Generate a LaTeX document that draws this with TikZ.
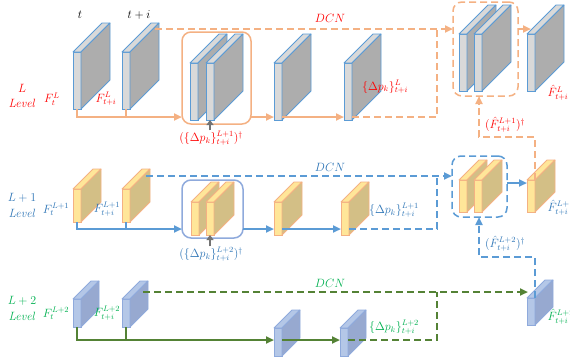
\documentclass[tikz,border=0pt]{standalone}
\usetikzlibrary{arrows.meta,calc}
\definecolor{cOr}{HTML}{F4B183}
\definecolor{cBl}{HTML}{5B9BD5}
\definecolor{cGr}{HTML}{548235}
\definecolor{cBx}{HTML}{8FAADC}
\definecolor{tRed}{HTML}{FF0000}
\definecolor{tBlue}{HTML}{2E75B6}
\definecolor{tGreen}{HTML}{00B050}
\definecolor{gLight}{HTML}{D9D9D9}
\definecolor{gDark}{HTML}{ADADAD}
\definecolor{yLight}{HTML}{FFE699}
\definecolor{yDark}{HTML}{D3BF86}
\definecolor{bLight}{HTML}{B4C7E7}
\definecolor{bDark}{HTML}{97A9D0}
\tikzset{
  slabbase/.style={rectangle, minimum width=8pt, inner sep=0pt, outer sep=0pt, line width=0.8pt},
  Lfront/.style={slabbase, draw=cBl, fill=gLight},
  Ltop/.style={draw=cBl, fill=gLight, line width=0.8pt, line join=round},
  Lside/.style={draw=cBl, fill=gDark, line width=0.8pt, line join=round},
  Mfront/.style={slabbase, draw=cOr, fill=yLight},
  Mtop/.style={draw=cOr, fill=yLight, line width=0.8pt, line join=round},
  Mside/.style={draw=cOr, fill=yDark, line width=0.8pt, line join=round},
  Bfront/.style={slabbase, draw=cBx, fill=bLight},
  Btop/.style={draw=cBx, fill=bLight, line width=0.8pt, line join=round},
  Bside/.style={draw=cBx, fill=bDark, line width=0.8pt, line join=round},
  arr/.style={-{Triangle[length=8pt,width=7pt]}},
  oline/.style={draw=cOr, line width=2pt},
  odash/.style={oline, dash pattern=on 7pt off 4pt},
  bline/.style={draw=cBl, line width=2pt},
  bdash/.style={bline, dash pattern=on 7pt off 4pt},
  gline/.style={draw=cGr, line width=2pt},
  gdash/.style={gline, dash pattern=on 7pt off 4pt},
  grayarr/.style={draw=black!55, line width=2pt, -{Triangle[length=5pt,width=7pt]}},
  boxbase/.style={rectangle, inner sep=0pt, outer sep=0pt, line width=1.5pt, rounded corners=9pt},
}
\newcommand{\mkslab}[6]{%
  \node[#6front, minimum height=#4, anchor=north west] (#1) at (#2,#3) {};
  \filldraw[#6top] (#1.north west) -- ($(#1.north west)+(#5,-#5)$) -- ($(#1.north east)+(#5,-#5)$) -- (#1.north east) -- cycle;
  \filldraw[#6side] (#1.north east) -- ($(#1.north east)+(#5,-#5)$) -- ($(#1.south east)+(#5,-#5)$) -- (#1.south east) -- cycle;
  \coordinate (#1-b) at ($(#1.north east)+(#5,-#5)$);
}
\begin{document}
\begin{tikzpicture}[x=1pt,y=-1pt, every node/.style={font=\fontsize{12}{14}\selectfont, inner sep=0.5pt}]
\useasboundingbox (0,0) rectangle (570,360);

% ---------- boxes ----------
\node[boxbase, draw=cOr, minimum width=69pt, minimum height=92pt] (boxL) at (216.5,78) {};
\node[boxbase, draw=cOr, dash pattern=on 7pt off 4pt, minimum width=65pt, minimum height=94pt] (boxLd) at (485.5,49) {};
\node[boxbase, draw=cBx, minimum width=61pt, minimum height=58pt] (boxM) at (212.5,209) {};
\node[boxbase, draw=cBl, dash pattern=on 7pt off 4pt, minimum width=55pt, minimum height=61pt] (boxMd) at (479.5,186.5) {};

% ---------- L level slabs ----------
\mkslab{L1}{73}{52}{57}{29}{L}
\mkslab{L2}{122}{52}{57}{29}{L}
\mkslab{LA}{190}{63}{57}{29}{L}
\mkslab{LB}{206}{63}{57}{29}{L}
\mkslab{L3}{274}{63}{57}{29}{L}
\mkslab{L4}{344}{63}{57}{29}{L}
\mkslab{LC}{459}{34}{57}{29}{L}
\mkslab{LD}{474}{34}{57}{29}{L}
\mkslab{LE}{527}{34}{57}{29}{L}

% ---------- L+1 level slabs ----------
\mkslab{M1}{73}{189}{33}{20}{M}
\mkslab{M2}{122}{189}{33}{20}{M}
\mkslab{MA}{191}{202}{33}{20}{M}
\mkslab{MB}{206}{202}{33}{20}{M}
\mkslab{M3}{274}{202}{33}{20}{M}
\mkslab{M4}{341}{202}{33}{20}{M}
\mkslab{MC}{459}{180}{32}{20}{M}
\mkslab{MD}{474}{180}{32}{20}{M}
\mkslab{ME}{527}{180}{32}{20}{M}

% ---------- L+2 level slabs ----------
\mkslab{B1}{73}{299}{28}{18}{B}
\mkslab{B2}{122}{299}{28}{18}{B}
\mkslab{B3}{274}{328}{28}{18}{B}
\mkslab{B4}{340}{328}{28}{18}{B}
\mkslab{BE}{527}{298}{27}{18}{B}

% ---------- helper coordinates ----------
\coordinate (yL) at (0,117);
\coordinate (yM) at (0,229);
\coordinate (yB) at (0,340);
\coordinate (xJ) at (437,0);
\coordinate (yM2) at (0,183);
\coordinate (L2-s) at ($(L2-b)+(-4,6)$);
\coordinate (M2-s) at ($(M2-b)+(-4,7)$);
\coordinate (B2-s) at ($(B2-b)+(-5,11)$);
\coordinate (uL) at (479,137);
\coordinate (uM) at (479,257);

% ---------- L level connectors ----------
\draw[oline,arr] (L1.south) |- (boxL.west |- yL);
\draw[oline] (L2.south) -- (L2.south |- yL);
\draw[oline,arr] (boxL.east |- yL) -- (L3.west |- yL);
\draw[oline,arr] (L3.east |- yL) -- (L4.west |- yL);
\draw[odash] (L4.east |- yL) -| (xJ |- L2-s);
\draw[odash,arr] (L2-s) -- (L2-s -| boxLd.west);
\draw[oline,arr] (boxLd.east |- L2-s) -- ($(LE.west |- L2-s)+(4,0)$);
\draw[odash,arr] (ME.north east) |- (uL) -- (uL |- boxLd.south);

% ---------- L+1 level connectors ----------
\draw[bline,arr] (M1.south) |- (boxM.west |- yM);
\draw[bline] (M2.south) -- (M2.south |- yM);
\draw[bline,arr] (boxM.east |- yM) -- (M3.west |- yM);
\draw[bline,arr] (M3.east |- yM) -- (M4.west |- yM);
\draw[bdash] (M4.east |- yM) -| (xJ |- M2-s);
\draw[bdash,arr] (M2-s) -- (M2-s -| boxMd.west);
\draw[bline,arr] (boxMd.east |- yM2) -- (ME.west |- yM2);
\draw[bdash,arr] (BE.north east) |- (uM) -- (uM |- boxMd.south);

% ---------- L+2 level connectors ----------
\draw[gline,arr] (B1.south) |- (B3.west |- yB);
\draw[gline] (B2.south) -- (B2.south |- yB);
\draw[gline,arr] (B3.east |- yB) -- (B4.west |- yB);
\draw[gdash] (B4.east |- yB) -| (xJ |- B2-s);
\draw[gdash,arr] (B2-s) -- ($(BE.west |- B2-s)+(1,0)$);

% ---------- labels ----------
\node (tt) at (80,15) {$t$};
\node (tti) at (139,15) {$t+i$};

\node[text=tRed] (lvL) at (22,88) {$L$};
\node[text=tRed] (lvL2) at (22,103) {\textit{Level}};
\node[text=tRed] (fL1) at (52,99) {$F^{L}_{t}$};
\node[text=tRed] (fL2) at (106,99) {$F^{L}_{t+i}$};
\node[text=tRed] (dcnL) at (330,18) {$DCN$};
\node[text=tRed] (dpL) at (385,87) {$\{\Delta p_k\}^{L}_{t+i}$};
\node[text=tRed] (upL) at (211,138) {$(\{\Delta p_k\}^{L+1}_{t+i})^{\dagger}$};
\node[text=tRed, anchor=west] (fhL) at (547,93) {$\hat{F}^{L}_{t+i}$};
\node[text=tRed] (fuL) at (505,125) {$(\hat{F}^{L+1}_{t+i})^{\dagger}$};
\draw[grayarr] (upL.north -| LB.south) -- (LB.south);

\node[text=tBlue] (lvM) at (22,198) {$L+1$};
\node[text=tBlue] (lvM2) at (22,213) {\textit{Level}};
\node[text=tBlue] (fM1) at (56,209) {$F^{L+1}_{t}$};
\node[text=tBlue] (fM2) at (107,209) {$F^{L+1}_{t+i}$};
\node[text=tBlue] (dcnM) at (330,167) {$DCN$};
\node[text=tBlue] (dpM) at (394,210) {$\{\Delta p_k\}^{L+1}_{t+i}$};
\node[text=tBlue] (upM) at (211,254) {$(\{\Delta p_k\}^{L+2}_{t+i})^{\dagger}$};
\node[text=tBlue, anchor=west] (fhM) at (547,208) {$\hat{F}^{L+1}_{t+i}$};
\node[text=tBlue] (fuM) at (505,244) {$(\hat{F}^{L+2}_{t+i})^{\dagger}$};
\draw[grayarr] (upM.north -| MB.south) -- (MB.south);

\node[text=tGreen] (lvB) at (22,301) {$L+2$};
\node[text=tGreen] (lvB2) at (22,316) {\textit{Level}};
\node[text=tGreen] (fB1) at (56,313) {$F^{L+2}_{t}$};
\node[text=tGreen] (fB2) at (107,313) {$F^{L+2}_{t+i}$};
\node[text=tGreen] (dcnB) at (330,283) {$DCN$};
\node[text=tGreen] (dpB) at (394,327) {$\{\Delta p_k\}^{L+2}_{t+i}$};
\node[text=tGreen, anchor=west] (fhB) at (547,317) {$\hat{F}^{L+2}_{t+i}$};
\end{tikzpicture}
\end{document}
